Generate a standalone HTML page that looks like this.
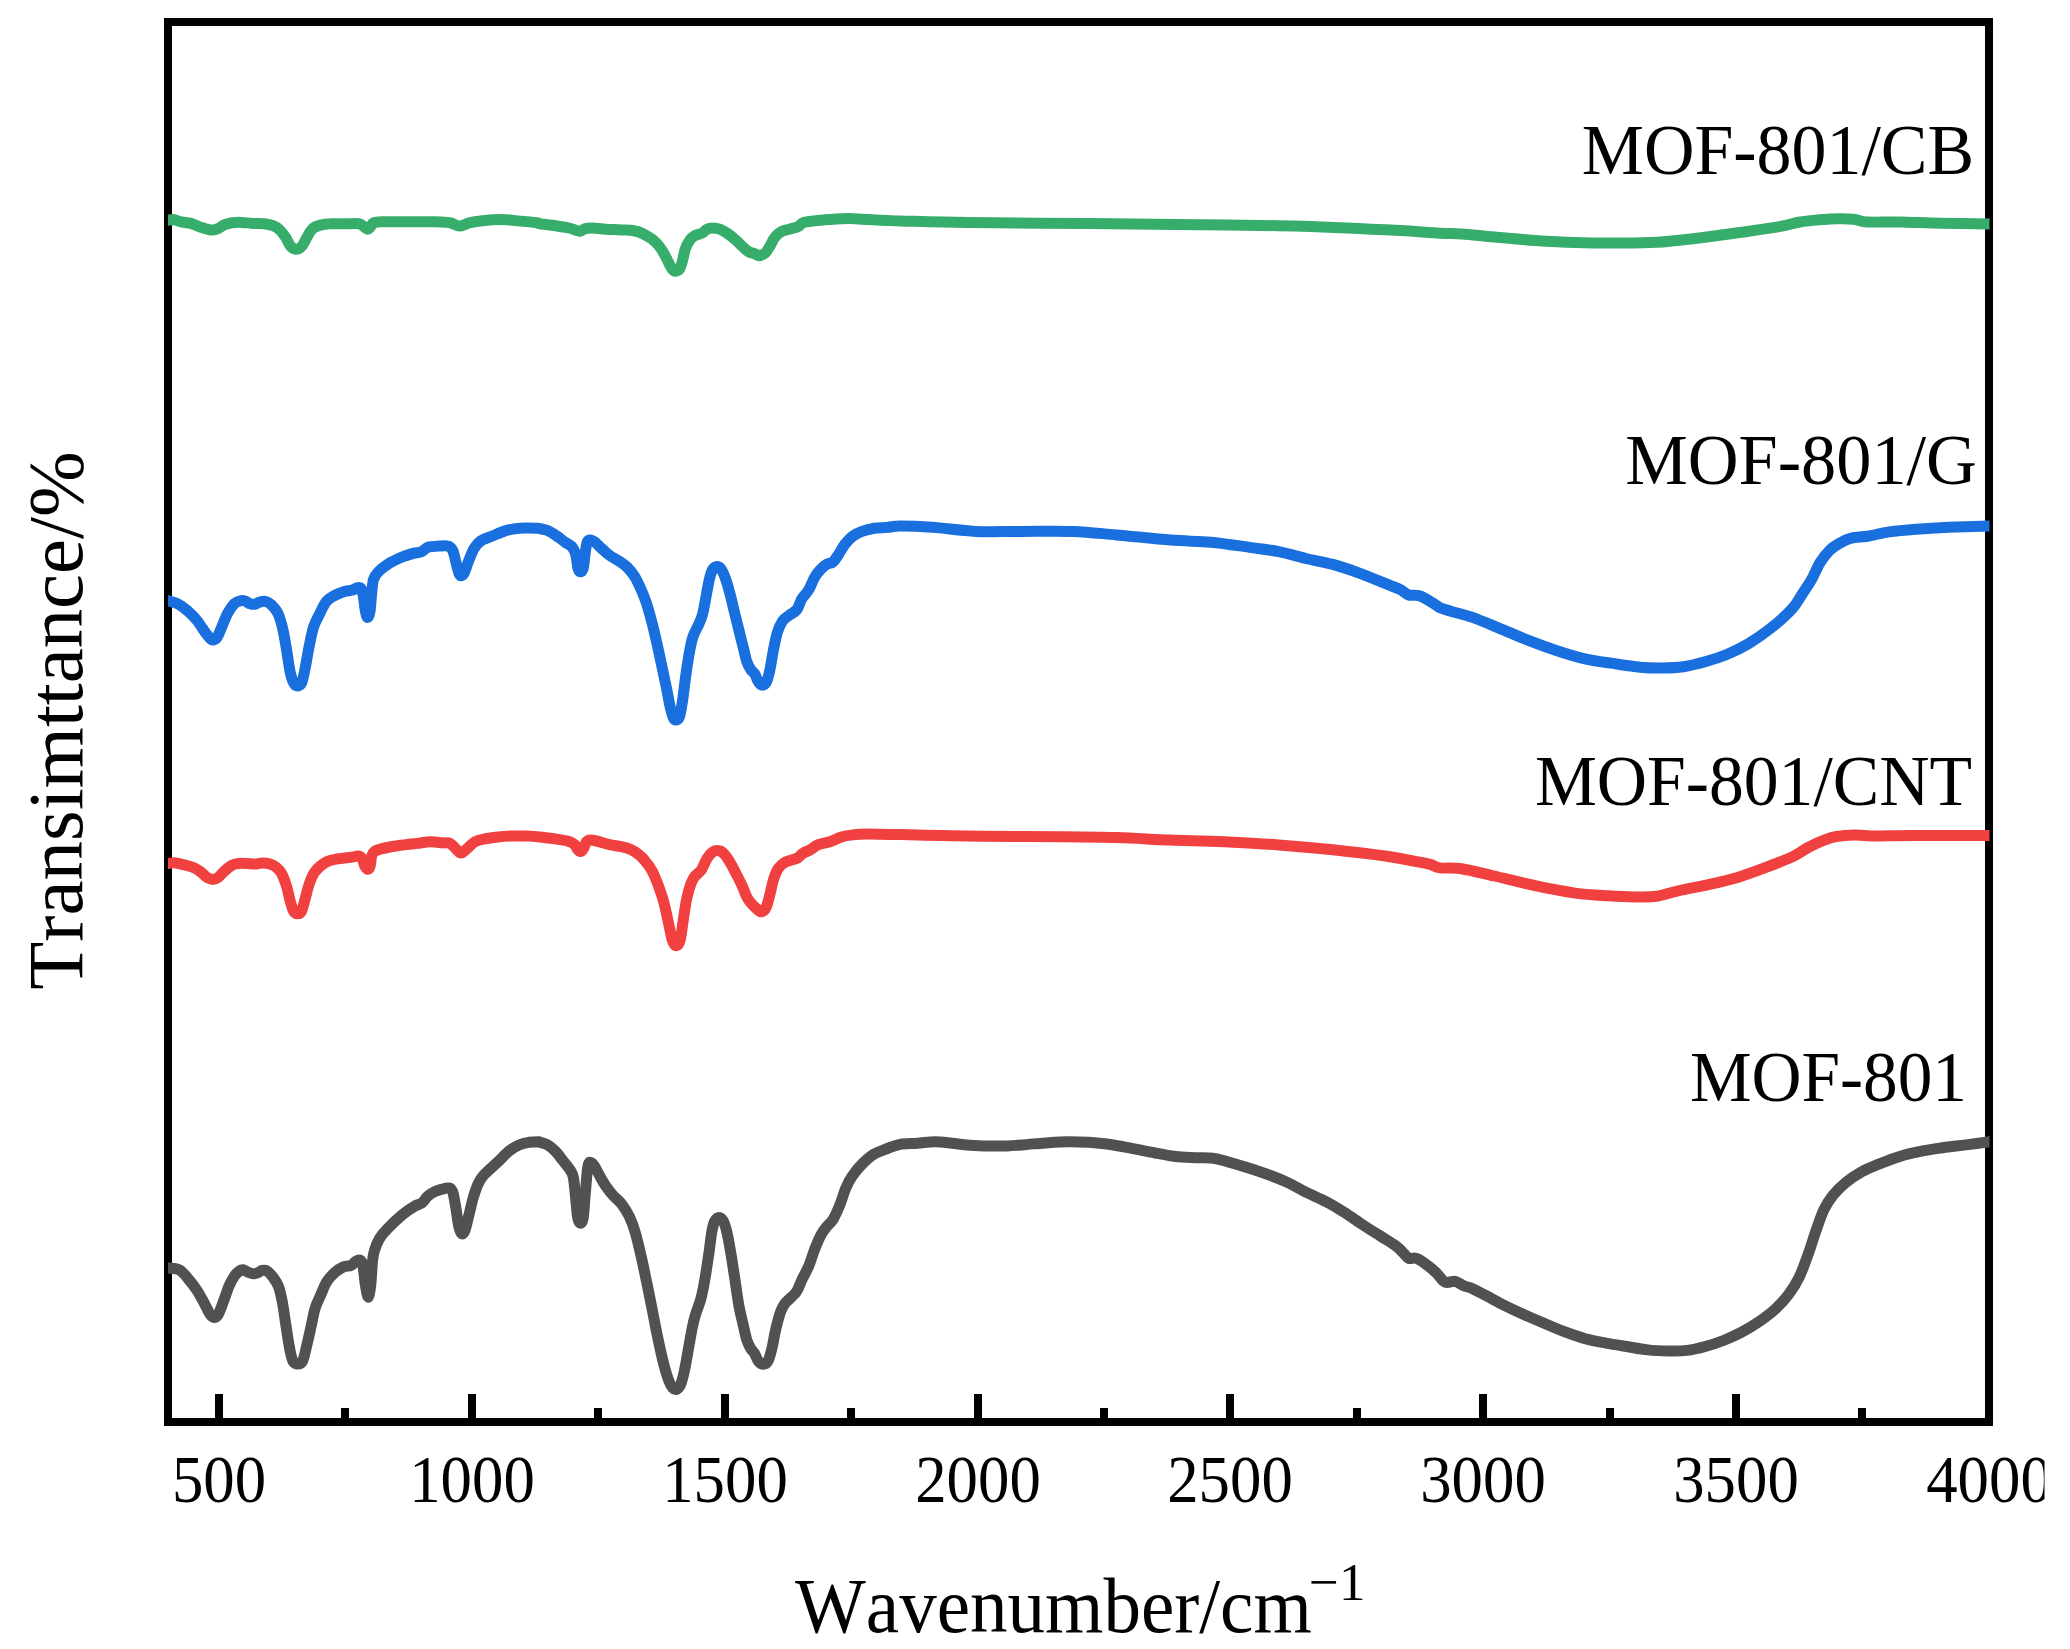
<!DOCTYPE html>
<html><head><meta charset="utf-8"><title>FTIR spectra</title>
<style>
html,body{margin:0;padding:0;background:#fff}
svg{display:block}
text{font-kerning:none;font-family:"Liberation Serif","Times New Roman",serif;fill:#000}
</style></head><body>
<svg width="2070" height="1649" viewBox="0 0 2070 1649">
<rect width="2070" height="1649" fill="#fff"/>
<rect x="168" y="22" width="1821" height="1400" fill="none" stroke="#000" stroke-width="8"/>
<path d="M219.0 1394V1420M472.0 1394V1420M725.0 1394V1420M978.0 1394V1420M1230.0 1394V1420M1483.0 1394V1420M1736.0 1394V1420" stroke="#000" stroke-width="8" fill="none"/>
<path d="M345.0 1408V1420M598.0 1408V1420M851.0 1408V1420M1104.0 1408V1420M1357.0 1408V1420M1610.0 1408V1420M1862.0 1408V1420" stroke="#000" stroke-width="8" fill="none"/>
<clipPath id="cc"><rect x="168" y="26" width="1821.5" height="1392"/></clipPath><g clip-path="url(#cc)">
<path d="M160.2 1266.5C161.5 1266.7 164.9 1267.3 168.2 1267.9C171.4 1268.4 176.2 1268.2 179.4 1269.8C182.6 1271.4 184.3 1274.2 187.2 1277.6C190.1 1281.0 194.0 1285.8 196.9 1290.2C199.8 1294.6 202.5 1299.9 204.6 1303.8C206.7 1307.7 208.0 1311.2 209.5 1313.5C210.9 1315.8 211.9 1317.2 213.4 1317.4C214.8 1317.5 216.4 1317.4 218.2 1314.5C220.0 1311.5 222.3 1304.6 224.0 1299.9C225.8 1295.2 227.1 1290.4 228.9 1286.3C230.7 1282.3 232.9 1278.2 234.7 1275.6C236.5 1273.1 238.1 1271.8 239.6 1270.8C241.0 1269.8 242.0 1269.6 243.5 1269.8C244.9 1270.1 246.7 1271.7 248.3 1272.3C249.9 1273.0 251.5 1273.6 253.2 1273.7C254.8 1273.8 256.6 1273.3 258.0 1272.7C259.5 1272.2 260.4 1270.7 261.9 1270.4C263.3 1270.1 265.0 1269.8 266.7 1270.8C268.5 1271.8 270.6 1274.0 272.6 1276.6C274.5 1279.2 276.8 1282.1 278.4 1286.3C280.0 1290.5 281.0 1295.1 282.3 1301.8C283.6 1308.6 284.9 1319.0 286.2 1327.1C287.4 1335.2 288.9 1344.7 290.0 1350.4C291.2 1356.0 291.7 1358.8 292.9 1361.0C294.2 1363.3 296.2 1363.9 297.8 1363.9C299.4 1363.9 301.2 1363.9 302.6 1361.0C304.1 1358.1 305.1 1352.5 306.5 1346.5C308.0 1340.5 309.9 1331.6 311.4 1325.1C312.8 1318.7 313.6 1312.8 315.3 1307.7C316.9 1302.5 319.1 1298.4 321.1 1294.1C323.0 1289.7 324.6 1285.0 326.9 1281.5C329.2 1277.9 331.9 1275.2 334.7 1272.7C337.4 1270.3 340.7 1268.1 343.4 1266.9C346.2 1265.7 349.1 1266.3 351.2 1265.4C353.3 1264.4 354.6 1262.0 356.0 1261.1C357.5 1260.2 358.8 1259.5 359.9 1260.1C361.0 1260.8 361.9 1260.9 362.8 1265.0C363.7 1269.0 364.5 1279.0 365.3 1284.4C366.2 1289.7 367.2 1296.7 368.1 1297.0C368.9 1297.3 369.8 1292.3 370.6 1286.3C371.3 1280.3 371.9 1267.1 372.5 1261.1C373.2 1255.1 373.3 1254.1 374.5 1250.4C375.6 1246.7 377.2 1242.3 379.3 1238.8C381.4 1235.2 383.2 1233.1 387.1 1229.1C391.0 1225.0 398.1 1218.3 402.6 1214.5C407.1 1210.7 411.0 1208.3 414.2 1206.4C417.5 1204.4 419.7 1204.6 422.0 1202.9C424.3 1201.1 425.6 1198.0 427.8 1196.1C430.1 1194.1 432.7 1192.5 435.6 1191.2C438.5 1189.9 442.9 1188.8 445.3 1188.3C447.7 1187.8 448.9 1187.5 450.2 1188.3C451.4 1189.1 452.1 1189.8 453.1 1193.2C454.0 1196.6 455.0 1203.0 456.0 1208.7C456.9 1214.3 457.9 1222.9 458.9 1227.1C459.9 1231.3 460.8 1233.4 461.8 1233.9C462.8 1234.4 464.0 1232.9 465.1 1230.0C466.2 1227.1 467.2 1221.9 468.6 1216.4C470.0 1210.9 471.8 1202.5 473.4 1197.0C475.1 1191.5 476.5 1187.2 478.3 1183.5C480.1 1179.7 480.9 1178.3 484.1 1174.7C487.3 1171.2 493.5 1166.1 497.7 1162.1C501.9 1158.1 505.8 1153.7 509.3 1150.8C512.9 1148.0 515.8 1146.4 519.0 1145.0C522.3 1143.6 525.5 1142.9 528.8 1142.3C532.0 1141.8 536.6 1141.7 538.5 1141.7C540.3 1141.7 538.4 1141.8 540.0 1142.3C541.6 1142.9 545.2 1143.5 547.8 1145.0C550.4 1146.5 552.9 1148.7 555.5 1151.4C558.1 1154.1 560.9 1158.1 563.3 1161.1C565.7 1164.2 568.4 1167.1 570.1 1169.9C571.8 1172.6 572.4 1172.5 573.4 1177.6C574.4 1182.8 575.2 1194.1 575.9 1200.9C576.6 1207.7 577.1 1214.7 577.8 1218.4C578.6 1222.1 579.5 1223.2 580.4 1223.2C581.2 1223.2 582.3 1222.8 583.1 1218.4C583.9 1214.0 584.4 1204.5 585.0 1197.0C585.7 1189.6 586.4 1179.2 587.0 1173.8C587.5 1168.3 587.9 1165.9 588.5 1164.0C589.2 1162.2 589.9 1162.2 590.8 1162.5C591.8 1162.8 592.8 1163.6 594.3 1166.0C595.9 1168.3 598.2 1173.3 600.2 1176.7C602.1 1180.1 603.9 1183.3 606.0 1186.4C608.1 1189.4 610.2 1192.2 612.8 1195.1C615.4 1198.0 618.8 1200.3 621.5 1203.8C624.3 1207.4 627.0 1211.8 629.3 1216.4C631.5 1221.1 633.2 1225.5 635.1 1232.0C637.0 1238.4 639.0 1246.9 640.9 1255.3C642.9 1263.7 644.8 1273.1 646.7 1282.4C648.7 1291.8 650.6 1301.8 652.6 1311.5C654.5 1321.3 656.4 1331.6 658.4 1340.7C660.3 1349.7 662.4 1359.1 664.2 1365.9C666.0 1372.7 667.6 1377.7 669.1 1381.4C670.5 1385.1 671.7 1386.9 672.9 1388.2C674.2 1389.5 675.5 1389.8 676.8 1389.2C678.1 1388.5 679.4 1387.6 680.7 1384.3C682.0 1381.1 683.3 1375.8 684.6 1369.8C685.9 1363.8 687.2 1355.5 688.5 1348.4C689.8 1341.3 691.2 1332.6 692.4 1327.1C693.5 1321.6 693.8 1320.3 695.3 1315.4C696.7 1310.6 699.5 1304.1 701.1 1298.0C702.7 1291.8 703.7 1286.0 705.0 1278.6C706.3 1271.1 707.7 1261.1 708.9 1253.3C710.0 1245.6 710.8 1237.3 711.8 1232.0C712.7 1226.6 713.5 1223.7 714.7 1221.3C715.9 1218.9 717.5 1217.4 718.9 1217.4C720.4 1217.4 722.0 1218.6 723.4 1221.3C724.8 1224.0 726.0 1228.3 727.3 1233.9C728.6 1239.6 729.9 1247.5 731.2 1255.3C732.5 1263.0 733.8 1272.1 735.1 1280.5C736.3 1288.9 737.6 1298.6 738.9 1305.7C740.2 1312.8 741.5 1317.5 742.8 1323.2C744.1 1328.9 745.4 1335.5 746.7 1339.7C748.0 1343.9 749.3 1346.2 750.6 1348.4C751.9 1350.7 753.2 1351.2 754.5 1353.3C755.8 1355.4 756.9 1359.2 758.3 1361.0C759.8 1362.9 761.6 1364.3 763.2 1364.3C764.8 1364.3 766.6 1363.7 768.0 1361.0C769.5 1358.4 770.6 1353.8 771.9 1348.4C773.2 1343.1 774.4 1335.2 775.8 1329.0C777.3 1322.9 779.0 1315.9 780.7 1311.5C782.3 1307.2 782.9 1306.0 785.5 1302.8C788.1 1299.6 793.4 1296.0 796.2 1292.1C798.9 1288.3 799.9 1283.9 802.0 1279.5C804.1 1275.2 806.7 1271.0 808.8 1265.9C810.9 1260.9 812.7 1254.5 814.6 1249.4C816.6 1244.4 818.5 1239.6 820.4 1235.9C822.4 1232.1 824.2 1229.9 826.3 1227.1C828.4 1224.4 830.8 1223.1 833.1 1219.4C835.3 1215.6 837.8 1210.0 839.9 1204.8C842.0 1199.6 843.6 1193.2 845.7 1188.3C847.8 1183.5 849.7 1179.7 852.5 1175.7C855.2 1171.6 858.6 1167.6 862.2 1164.0C865.7 1160.5 869.6 1156.9 873.8 1154.3C878.0 1151.8 883.0 1150.2 887.4 1148.5C891.8 1146.9 895.0 1145.2 900.0 1144.3C905.0 1143.5 911.6 1143.6 917.4 1143.2C923.2 1142.8 929.0 1141.7 934.8 1141.7C940.6 1141.7 946.4 1142.6 952.2 1143.2C958.0 1143.8 961.8 1144.7 969.6 1145.2C977.3 1145.7 989.9 1146.1 998.6 1146.1C1007.2 1146.0 1014.0 1145.5 1021.7 1144.9C1029.5 1144.4 1037.2 1143.4 1044.9 1142.9C1052.7 1142.4 1060.9 1141.8 1068.1 1141.7C1075.4 1141.6 1081.6 1141.9 1088.4 1142.3C1095.2 1142.8 1101.4 1143.3 1108.7 1144.3C1115.9 1145.4 1124.2 1147.0 1131.9 1148.4C1139.6 1149.9 1147.8 1151.7 1155.1 1153.0C1162.3 1154.4 1168.6 1155.7 1175.4 1156.5C1182.1 1157.3 1189.4 1157.4 1195.7 1157.7C1201.9 1158.0 1207.7 1157.6 1213.0 1158.3C1218.4 1158.9 1221.7 1160.1 1227.5 1161.7C1233.3 1163.3 1240.6 1165.5 1247.8 1167.8C1255.1 1170.1 1264.3 1173.1 1271.0 1175.7C1277.8 1178.2 1282.6 1180.1 1288.4 1182.9C1294.2 1185.7 1299.5 1189.0 1305.8 1192.2C1312.1 1195.3 1319.8 1198.5 1326.1 1201.7C1332.4 1205.0 1337.2 1207.9 1343.5 1211.9C1349.8 1215.8 1357.5 1221.4 1363.8 1225.5C1370.0 1229.6 1375.8 1233.1 1381.2 1236.5C1386.5 1239.9 1392.0 1243.1 1395.7 1245.8C1399.3 1248.5 1400.7 1250.4 1402.9 1252.5C1405.1 1254.5 1406.5 1257.3 1408.7 1258.3C1410.9 1259.2 1413.3 1257.4 1415.9 1258.3C1418.6 1259.1 1421.3 1260.8 1424.6 1263.2C1428.0 1265.6 1432.9 1269.6 1436.2 1272.8C1439.6 1275.9 1441.8 1280.6 1444.9 1282.0C1448.1 1283.5 1451.9 1280.8 1455.1 1281.4C1458.2 1282.1 1461.2 1284.7 1463.8 1285.8C1466.3 1286.9 1466.7 1286.2 1470.4 1287.8C1474.2 1289.5 1480.4 1292.7 1486.1 1295.7C1491.7 1298.6 1498.3 1302.3 1504.3 1305.3C1510.4 1308.3 1516.1 1311.0 1522.6 1313.9C1529.1 1316.9 1536.5 1320.1 1543.5 1323.0C1550.4 1326.0 1557.4 1329.0 1564.3 1331.7C1571.3 1334.3 1578.3 1336.8 1585.2 1338.7C1592.2 1340.6 1599.1 1341.8 1606.1 1343.1C1613.0 1344.4 1620.0 1345.4 1627.0 1346.5C1633.9 1347.7 1640.9 1349.2 1647.8 1349.9C1654.8 1350.7 1662.2 1350.9 1668.7 1351.0C1675.2 1351.0 1680.9 1351.2 1687.0 1350.4C1693.0 1349.7 1699.1 1348.2 1705.2 1346.5C1711.3 1344.9 1717.4 1342.9 1723.5 1340.5C1729.6 1338.1 1735.7 1335.4 1741.7 1332.2C1747.8 1328.9 1754.3 1324.9 1760.0 1321.0C1765.7 1317.0 1770.9 1313.1 1775.7 1308.7C1780.4 1304.3 1784.8 1299.6 1788.7 1294.3C1792.6 1289.1 1795.9 1284.1 1799.1 1277.4C1802.4 1270.7 1805.4 1261.7 1808.3 1253.9C1811.1 1246.1 1813.5 1237.8 1816.1 1230.4C1818.7 1223.0 1821.1 1215.4 1823.9 1209.6C1826.7 1203.7 1829.3 1199.8 1833.0 1195.2C1836.7 1190.7 1841.3 1186.1 1846.1 1182.2C1850.9 1178.3 1856.5 1174.7 1861.7 1171.7C1867.0 1168.8 1871.3 1167.2 1877.4 1164.7C1883.5 1162.2 1891.3 1159.0 1898.3 1156.9C1905.2 1154.7 1911.7 1153.2 1919.1 1151.7C1926.5 1150.1 1934.8 1148.9 1942.6 1147.7C1950.4 1146.6 1958.3 1145.9 1966.1 1144.9C1973.9 1143.9 1984.3 1142.4 1989.6 1141.7C1994.8 1141.0 1996.2 1140.9 1997.6 1140.7" fill="none" stroke="#515151" stroke-width="11" stroke-linejoin="round" stroke-linecap="butt"/>
<path d="M160.1 864.4C161.4 864.3 165.7 863.8 168.1 863.5C170.5 863.2 172.0 862.5 174.5 862.7C177.0 862.9 180.1 863.9 183.2 864.6C186.2 865.4 190.0 866.2 192.9 867.3C195.7 868.5 198.2 870.1 200.6 871.8C203.0 873.5 205.2 876.3 207.3 877.6C209.4 878.9 211.4 879.5 213.1 879.5C214.9 879.5 216.0 879.0 218.0 877.6C219.9 876.1 222.3 872.9 224.7 870.8C227.1 868.7 230.0 866.2 232.5 865.0C234.9 863.8 236.8 863.7 239.2 863.5C241.6 863.2 244.4 863.4 247.0 863.5C249.5 863.6 252.1 864.1 254.7 864.1C257.3 864.0 259.8 863.1 262.4 863.1C265.0 863.1 267.9 863.4 270.1 864.1C272.4 864.7 274.0 865.3 275.9 867.0C277.9 868.6 280.0 870.5 281.7 873.7C283.5 876.9 285.1 881.6 286.6 886.3C288.0 891.0 289.2 897.6 290.4 901.7C291.6 905.9 292.5 909.4 293.7 911.4C294.9 913.4 296.3 913.7 297.6 913.7C298.9 913.7 300.2 913.7 301.4 911.4C302.7 909.1 303.7 904.2 304.9 899.8C306.2 895.5 307.3 889.7 308.8 885.3C310.2 881.0 311.7 876.9 313.6 873.7C315.6 870.5 318.0 868.1 320.4 866.0C322.8 863.9 325.2 862.4 328.1 861.2C331.0 860.0 333.9 859.5 337.8 858.8C341.6 858.2 347.9 857.8 351.3 857.3C354.7 856.8 356.3 855.8 358.1 855.9C359.8 856.1 360.8 856.6 361.9 858.3C363.1 859.9 363.9 864.2 364.8 866.0C365.8 867.8 366.8 869.3 367.7 869.3C368.6 869.3 369.6 868.1 370.2 866.0C370.9 863.8 370.9 858.7 371.6 856.3C372.3 853.9 372.7 852.8 374.5 851.5C376.3 850.2 378.4 849.6 382.2 848.6C386.1 847.6 391.9 846.6 397.7 845.7C403.5 844.8 411.5 844.0 417.0 843.4C422.5 842.7 426.3 841.9 430.5 841.8C434.7 841.7 438.9 842.5 442.1 842.8C445.3 843.1 447.6 842.4 449.9 843.4C452.1 844.3 453.8 847.0 455.7 848.6C457.5 850.2 459.1 853.0 461.1 853.0C463.0 853.0 464.9 850.5 467.2 848.6C469.6 846.7 472.1 843.4 475.0 841.8C477.9 840.2 480.8 839.7 484.6 838.9C488.5 838.1 493.7 837.5 498.2 837.0C502.7 836.5 506.9 836.2 511.7 836.0C516.5 835.9 522.4 835.9 527.1 836.0C531.9 836.2 535.3 836.5 540.0 837.0C544.7 837.5 550.6 838.2 555.5 838.9C560.3 839.7 565.8 840.5 569.0 841.4C572.2 842.4 573.3 843.4 574.8 844.7C576.2 846.1 576.7 848.4 577.7 849.6C578.6 850.7 579.6 851.7 580.6 851.5C581.5 851.3 582.5 850.2 583.5 848.6C584.4 847.0 585.2 843.3 586.4 841.8C587.6 840.4 588.7 840.0 590.6 839.9C592.6 839.8 594.8 840.6 598.0 841.4C601.1 842.3 605.7 843.9 609.6 844.7C613.4 845.6 617.6 845.9 621.2 846.7C624.7 847.5 627.9 848.3 630.8 849.6C633.7 850.9 636.1 852.5 638.6 854.4C641.0 856.3 643.1 858.4 645.3 861.2C647.6 863.9 650.0 867.0 652.1 870.8C654.2 874.7 655.9 879.2 657.9 884.3C659.8 889.5 661.9 895.3 663.7 901.7C665.4 908.2 667.1 916.6 668.5 923.0C670.0 929.4 671.1 936.6 672.4 940.4C673.7 944.2 674.9 945.8 676.2 945.8C677.5 945.8 678.9 944.8 680.1 940.4C681.3 935.9 682.3 926.2 683.4 919.1C684.5 912.0 685.6 903.7 686.9 897.9C688.1 892.1 689.4 887.9 690.7 884.3C692.0 880.8 692.8 879.0 694.6 876.6C696.4 874.2 699.3 872.9 701.4 869.9C703.4 866.8 705.4 861.2 707.1 858.3C708.9 855.4 710.4 853.8 712.0 852.5C713.6 851.2 715.0 850.5 716.8 850.5C718.6 850.5 720.5 850.7 722.6 852.5C724.7 854.2 727.1 857.6 729.4 861.2C731.6 864.7 734.0 869.7 736.1 873.7C738.2 877.7 740.2 881.4 741.9 885.3C743.7 889.2 745.2 893.8 746.8 896.9C748.4 900.0 750.0 901.7 751.6 903.7C753.2 905.6 754.8 907.1 756.4 908.5C758.0 909.9 759.6 911.9 761.3 911.8C762.9 911.6 764.6 910.5 766.1 907.5C767.5 904.6 768.7 898.8 770.0 894.0C771.2 889.2 772.4 882.9 773.8 878.6C775.3 874.2 776.7 870.7 778.6 867.9C780.6 865.2 782.4 863.7 785.4 862.1C788.5 860.5 794.1 859.7 797.0 858.3C799.9 856.8 800.5 854.9 802.8 853.4C805.1 852.0 808.0 851.0 810.5 849.6C813.1 848.1 815.0 846.0 818.3 844.7C821.5 843.4 826.0 843.1 829.9 841.8C833.7 840.5 837.6 838.2 841.4 837.0C845.3 835.8 848.5 835.4 853.0 834.9C857.6 834.4 862.7 834.2 868.5 834.1C874.3 834.0 882.6 834.4 887.8 834.5C893.1 834.6 891.2 834.5 900.0 834.6C908.8 834.8 927.1 835.2 940.6 835.5C954.1 835.7 960.9 836.0 981.2 836.3C1001.4 836.5 1039.8 836.6 1062.3 836.8C1084.9 837.0 1098.4 837.1 1116.4 837.6C1134.5 838.2 1152.5 839.4 1170.5 840.1C1188.6 840.7 1206.6 840.9 1224.6 841.7C1242.7 842.5 1260.7 843.6 1278.7 844.9C1296.8 846.3 1314.8 847.9 1332.9 849.8C1350.9 851.7 1373.4 854.4 1387.0 856.3C1400.5 858.2 1406.8 859.8 1414.0 861.2C1421.2 862.5 1425.9 863.3 1430.2 864.4C1434.6 865.5 1434.8 867.2 1440.0 867.9C1445.2 868.6 1452.6 867.4 1461.6 868.7C1470.7 870.1 1481.9 873.2 1494.1 876.0C1506.3 878.8 1521.2 882.7 1534.7 885.5C1548.2 888.3 1563.1 891.4 1575.3 893.1C1587.4 894.8 1597.8 895.2 1607.7 895.8C1617.6 896.4 1626.7 896.8 1634.8 896.9C1642.9 897.0 1649.2 897.3 1656.4 896.3C1663.6 895.3 1669.0 892.9 1678.1 890.9C1687.1 888.9 1700.6 886.4 1710.5 884.2C1720.5 881.9 1728.6 880.1 1737.6 877.4C1746.6 874.7 1755.6 871.3 1764.6 867.9C1773.7 864.5 1784.5 860.5 1791.7 857.1C1798.9 853.7 1802.5 850.5 1807.9 847.6C1813.3 844.8 1819.2 842.0 1824.2 840.1C1829.1 838.2 1832.7 837.1 1837.7 836.3C1842.6 835.4 1848.1 835.0 1853.9 834.9C1859.8 834.9 1862.9 835.9 1872.9 836.0C1882.8 836.1 1894.0 835.5 1913.4 835.5C1932.8 835.4 1975.2 835.5 1989.2 835.5C2003.1 835.5 1995.8 835.5 1997.2 835.5" fill="none" stroke="#F14040" stroke-width="11" stroke-linejoin="round" stroke-linecap="butt"/>
<path d="M160.1 598.3C161.4 598.7 165.2 599.9 168.1 600.8C171.0 601.7 174.2 602.1 177.4 603.7C180.5 605.3 183.8 607.7 187.1 610.4C190.3 613.2 193.7 616.4 196.7 620.1C199.8 623.8 203.2 629.6 205.4 632.7C207.7 635.7 209.0 637.2 210.2 638.5C211.5 639.7 212.0 640.2 213.1 640.0C214.3 639.8 215.6 639.7 217.0 637.5C218.5 635.3 220.1 630.9 221.8 626.9C223.6 622.8 225.5 617.2 227.6 613.3C229.7 609.5 232.3 605.8 234.4 603.7C236.5 601.6 238.4 601.2 240.2 600.8C242.0 600.3 243.4 600.5 245.0 601.0C246.6 601.4 248.2 603.1 249.9 603.7C251.5 604.2 253.1 604.5 254.7 604.3C256.3 604.0 257.7 602.6 259.5 602.1C261.3 601.6 263.4 600.9 265.3 601.4C267.2 601.8 269.0 602.6 271.1 604.6C273.2 606.6 275.9 609.3 277.9 613.3C279.8 617.4 281.3 622.7 282.7 628.8C284.2 634.9 285.3 642.6 286.6 650.0C287.9 657.5 289.1 667.6 290.4 673.2C291.7 678.9 293.0 681.8 294.3 683.9C295.6 686.0 296.9 686.1 298.2 685.8C299.5 685.5 300.8 685.0 302.0 681.9C303.2 678.9 304.1 673.4 305.3 667.4C306.5 661.5 307.8 652.9 309.2 646.2C310.6 639.4 311.9 632.2 313.6 626.9C315.3 621.5 317.3 618.5 319.4 614.3C321.5 610.1 323.8 604.8 326.2 601.7C328.6 598.7 331.0 597.6 333.9 595.9C336.8 594.3 340.5 592.7 343.6 591.7C346.6 590.7 350.0 590.8 352.3 590.1C354.5 589.5 355.7 588.1 357.1 587.8C358.6 587.5 359.9 586.9 361.0 588.2C362.0 589.6 362.5 592.1 363.3 595.9C364.0 599.8 364.7 607.8 365.4 611.4C366.2 615.0 367.0 617.6 367.7 617.6C368.5 617.6 369.4 615.3 370.0 611.4C370.7 607.5 371.0 599.3 371.6 594.0C372.2 588.7 372.4 583.2 373.5 579.5C374.7 575.8 375.9 574.4 378.4 571.8C380.8 569.2 384.2 566.5 388.0 564.1C391.9 561.6 397.4 559.1 401.5 557.3C405.7 555.5 409.9 554.3 413.1 553.4C416.4 552.5 418.3 552.9 420.9 551.9C423.4 550.8 425.7 548.0 428.6 547.1C431.5 546.1 435.0 546.2 438.3 546.1C441.5 545.9 445.5 545.3 447.9 546.1C450.3 546.8 451.3 547.4 452.8 550.5C454.2 553.7 455.6 561.2 456.6 565.0C457.7 568.9 458.3 571.9 459.1 573.7C459.9 575.5 460.6 575.8 461.4 575.7C462.3 575.5 463.2 575.0 464.3 572.8C465.5 570.5 466.6 566.2 468.2 562.1C469.8 558.1 471.9 552.1 474.0 548.6C476.1 545.1 477.7 543.0 480.8 540.9C483.8 538.8 488.2 537.7 492.4 536.0C496.6 534.3 501.4 531.9 505.9 530.6C510.4 529.3 514.3 528.7 519.4 528.3C524.6 527.9 533.4 528.2 536.8 528.3C540.2 528.4 538.2 528.3 540.0 528.7C541.8 529.1 544.8 529.3 547.7 530.6C550.6 531.9 554.5 534.5 557.4 536.4C560.3 538.4 562.7 540.5 565.1 542.2C567.5 543.9 570.1 544.6 571.9 546.7C573.7 548.7 574.7 550.7 575.7 554.4C576.8 558.1 577.3 566.0 578.1 568.9C578.9 571.8 579.7 571.9 580.6 571.8C581.4 571.6 582.5 571.3 583.3 567.9C584.1 564.5 584.7 555.8 585.4 551.5C586.1 547.1 586.5 543.8 587.3 541.8C588.2 539.9 589.3 539.8 590.6 539.9C591.9 540.0 593.2 540.8 595.1 542.2C596.9 543.7 599.4 546.4 601.8 548.6C604.3 550.8 606.7 553.3 609.6 555.4C612.5 557.5 616.3 559.2 619.2 561.2C622.1 563.1 624.4 564.4 627.0 567.0C629.5 569.5 632.4 573.1 634.7 576.6C636.9 580.2 638.6 583.9 640.5 588.2C642.4 592.6 644.3 596.9 646.3 602.7C648.2 608.5 650.3 616.2 652.1 623.0C653.8 629.8 655.3 636.2 656.9 643.3C658.5 650.4 660.1 657.9 661.7 665.5C663.3 673.1 665.1 681.6 666.6 688.7C668.0 695.8 669.3 703.2 670.4 708.0C671.6 712.9 672.4 715.7 673.3 717.7C674.3 719.7 675.2 720.2 676.2 720.0C677.3 719.8 678.5 720.0 679.5 716.7C680.6 713.4 681.6 706.6 682.6 700.3C683.6 694.0 684.3 686.4 685.3 679.0C686.3 671.6 687.6 662.8 688.8 655.8C690.0 648.9 691.2 642.3 692.7 637.5C694.1 632.7 695.9 630.6 697.5 626.9C699.1 623.2 700.9 620.1 702.3 615.3C703.7 610.4 704.7 603.7 705.8 597.9C706.9 592.1 708.0 585.2 709.1 580.5C710.2 575.8 711.2 572.2 712.4 569.9C713.6 567.5 714.8 566.8 716.2 566.6C717.6 566.3 719.1 566.5 720.7 568.5C722.2 570.5 723.9 574.1 725.5 578.6C727.1 583.0 728.7 588.9 730.3 595.0C731.9 601.1 733.6 608.7 735.2 615.3C736.8 621.9 738.6 628.8 740.0 634.6C741.4 640.4 742.7 645.5 743.9 650.0C745.0 654.6 745.6 658.4 746.8 661.6C747.9 664.9 749.3 667.3 750.6 669.4C752.0 671.5 753.6 672.1 754.9 674.2C756.2 676.3 757.1 680.1 758.4 681.9C759.6 683.8 760.9 685.2 762.2 685.2C763.6 685.2 765.2 684.6 766.5 681.9C767.8 679.3 768.8 674.7 770.0 669.4C771.1 664.1 772.2 656.2 773.4 650.0C774.7 643.9 775.8 637.5 777.3 632.7C778.8 627.8 780.5 624.0 782.5 621.1C784.5 618.2 786.9 617.2 789.3 615.3C791.7 613.3 794.9 612.2 797.0 609.5C799.1 606.7 799.9 602.1 801.8 598.8C803.8 595.6 806.5 593.7 808.6 590.1C810.7 586.6 812.5 581.0 814.4 577.6C816.3 574.2 818.1 572.1 820.2 569.9C822.3 567.6 824.9 565.3 827.0 564.1C829.0 562.8 830.8 563.7 832.8 562.1C834.7 560.5 836.5 557.5 838.6 554.4C840.6 551.3 842.9 546.8 845.3 543.8C847.7 540.7 850.1 538.1 853.0 536.0C855.9 533.9 859.2 532.5 862.7 531.2C866.2 529.9 870.1 529.0 874.3 528.3C878.5 527.7 883.5 527.7 887.8 527.3C892.1 527.0 892.6 526.0 900.0 526.0C907.4 526.0 919.8 526.4 932.5 527.3C945.1 528.2 960.9 530.7 975.7 531.4C990.6 532.1 1005.5 531.4 1021.7 531.4C1038.0 531.4 1057.4 530.8 1073.1 531.4C1088.9 532.0 1100.2 533.5 1116.4 534.9C1132.7 536.4 1154.8 538.8 1170.5 540.1C1186.3 541.3 1197.6 541.0 1211.1 542.2C1224.6 543.5 1240.4 546.1 1251.7 547.6C1263.0 549.2 1269.7 549.9 1278.7 551.7C1287.8 553.5 1296.8 556.3 1305.8 558.5C1314.8 560.6 1323.8 561.9 1332.9 564.4C1341.9 566.9 1350.9 570.0 1359.9 573.3C1368.9 576.6 1380.2 581.4 1387.0 584.2C1393.7 586.9 1396.9 587.8 1400.5 589.6C1404.1 591.4 1405.4 593.9 1408.6 595.0C1411.8 596.0 1415.4 594.4 1419.4 595.8C1423.5 597.1 1429.5 601.1 1432.9 603.1C1436.4 605.1 1437.0 606.3 1440.0 607.7C1443.0 609.0 1445.4 609.6 1450.8 611.2C1456.2 612.8 1464.3 614.6 1472.5 617.4C1480.6 620.3 1490.5 624.6 1499.5 628.3C1508.5 631.9 1517.1 635.9 1526.6 639.6C1536.0 643.3 1546.4 647.2 1556.3 650.4C1566.2 653.7 1576.6 656.9 1586.1 659.1C1595.6 661.3 1604.1 662.1 1613.1 663.4C1622.2 664.8 1632.1 666.4 1640.2 667.2C1648.3 668.0 1654.6 668.1 1661.8 668.0C1669.0 667.9 1676.3 667.7 1683.5 666.7C1690.7 665.6 1697.9 663.8 1705.1 661.8C1712.3 659.8 1719.5 657.5 1726.8 654.5C1734.0 651.5 1741.2 648.0 1748.4 643.7C1755.6 639.4 1762.8 634.5 1770.0 628.8C1777.3 623.1 1786.3 615.2 1791.7 609.3C1797.1 603.5 1799.1 598.7 1802.5 593.6C1805.9 588.5 1809.0 583.9 1812.0 578.7C1814.9 573.6 1817.2 567.2 1820.1 562.5C1823.0 557.8 1826.4 553.5 1829.6 550.3C1832.7 547.2 1835.4 545.6 1839.0 543.6C1842.6 541.5 1846.5 539.4 1851.2 538.2C1855.9 536.9 1861.1 537.3 1867.4 536.3C1873.8 535.2 1881.0 533.1 1889.1 531.9C1897.2 530.8 1906.2 530.0 1916.1 529.2C1926.1 528.5 1936.4 527.9 1948.6 527.3C1960.8 526.8 1981.1 526.3 1989.2 526.0C1997.3 525.7 1995.8 525.8 1997.2 525.7" fill="none" stroke="#1A6FDF" stroke-width="11" stroke-linejoin="round" stroke-linecap="butt"/>
<path d="M160.1 221.4C161.4 221.2 165.9 220.6 168.1 220.3C170.4 220.0 171.3 219.3 173.5 219.5C175.7 219.8 178.4 221.2 181.3 221.8C184.2 222.5 187.7 222.5 190.9 223.4C194.1 224.3 197.8 226.3 200.6 227.2C203.3 228.2 205.4 228.7 207.3 229.2C209.3 229.6 210.4 230.0 212.2 230.0C213.9 229.9 215.9 229.5 218.0 228.6C220.1 227.7 222.3 225.7 224.7 224.7C227.1 223.8 229.7 223.2 232.5 222.8C235.2 222.4 237.8 222.3 241.2 222.4C244.5 222.5 248.9 223.2 252.8 223.4C256.6 223.6 261.0 223.4 264.3 223.8C267.7 224.2 270.5 224.7 273.0 225.7C275.6 226.7 277.7 228.0 279.8 230.0C281.9 231.9 283.8 234.6 285.6 237.3C287.4 240.0 288.7 244.0 290.4 246.0C292.2 248.0 294.3 249.3 296.2 249.3C298.2 249.3 300.3 248.0 302.0 246.0C303.8 244.0 305.1 240.2 306.9 237.3C308.6 234.4 310.4 230.6 312.7 228.6C314.9 226.6 317.5 225.9 320.4 225.1C323.3 224.3 325.9 224.0 330.0 223.8C334.2 223.5 340.7 223.8 345.5 223.8C350.3 223.8 356.0 223.3 359.0 223.8C362.1 224.3 362.4 225.8 363.9 226.7C365.3 227.6 366.6 229.2 367.7 229.2C368.9 229.2 369.7 227.7 370.6 226.7C371.6 225.6 371.6 223.6 373.5 222.8C375.5 222.0 375.9 222.0 382.2 221.8C388.5 221.7 402.5 221.8 411.2 221.8C419.9 221.8 428.0 221.7 434.4 221.8C440.8 222.0 445.7 222.1 449.9 222.8C454.0 223.5 456.3 226.1 459.5 226.1C462.7 226.1 465.6 223.7 469.2 222.8C472.7 221.9 475.3 221.4 480.8 220.9C486.2 220.3 495.9 219.5 502.0 219.5C508.1 219.5 511.7 220.3 517.5 220.9C523.3 221.4 533.1 222.3 536.8 222.8C540.6 223.3 536.9 223.3 540.0 223.8C543.1 224.3 550.6 225.0 555.5 225.7C560.3 226.4 565.4 227.2 569.0 228.0C572.5 228.8 574.8 230.0 576.7 230.5C578.6 231.0 579.1 231.4 580.6 231.1C582.0 230.8 583.5 229.1 585.4 228.6C587.3 228.1 588.8 227.9 592.2 228.0C595.6 228.1 600.9 228.9 605.7 229.2C610.5 229.5 616.7 229.7 621.2 230.0C625.7 230.2 629.2 230.0 632.8 230.5C636.3 231.1 639.2 232.0 642.4 233.4C645.6 234.9 649.2 237.0 652.1 239.2C655.0 241.5 657.6 244.1 659.8 247.0C662.1 249.9 663.8 253.4 665.6 256.6C667.4 259.8 669.1 264.0 670.4 266.3C671.7 268.6 672.4 269.7 673.3 270.5C674.3 271.3 675.2 271.3 676.2 271.1C677.3 270.9 678.5 271.0 679.5 269.2C680.6 267.4 681.6 263.9 682.6 260.5C683.6 257.1 684.1 252.3 685.3 248.9C686.5 245.5 688.2 242.4 689.8 240.2C691.3 238.0 692.5 236.9 694.6 235.7C696.7 234.6 700.2 234.1 702.3 233.0C704.4 231.9 705.4 230.0 707.1 229.2C708.9 228.3 710.9 228.0 712.9 228.0C715.0 228.0 717.3 228.3 719.7 229.2C722.1 230.1 724.9 231.7 727.4 233.4C730.0 235.2 732.8 237.5 735.2 239.6C737.6 241.7 739.7 244.0 741.9 246.0C744.2 248.0 746.6 250.5 748.7 251.8C750.8 253.1 752.7 253.1 754.5 253.7C756.3 254.4 757.6 255.7 759.3 255.7C761.1 255.6 763.3 254.8 765.1 253.1C766.9 251.5 768.3 248.6 770.0 246.0C771.6 243.3 772.9 239.7 774.8 237.3C776.7 234.9 779.1 232.9 781.5 231.5C784.0 230.1 786.5 230.0 789.3 229.2C792.0 228.4 795.7 227.7 798.0 226.7C800.2 225.6 800.1 223.8 802.8 222.8C805.5 221.8 809.9 221.4 814.4 220.9C818.9 220.3 824.1 219.9 829.9 219.5C835.7 219.1 842.7 218.6 849.2 218.6C855.6 218.6 862.1 219.2 868.5 219.5C874.9 219.8 882.6 220.3 887.8 220.5C893.1 220.7 886.7 220.6 900.0 220.9C913.3 221.2 936.1 222.1 967.6 222.5C999.2 223.0 1051.0 223.2 1089.4 223.6C1127.7 224.0 1166.0 224.3 1197.6 224.7C1229.1 225.0 1253.9 225.2 1278.7 225.8C1303.5 226.3 1326.1 227.1 1346.4 227.9C1366.7 228.7 1384.9 229.7 1400.5 230.6C1416.1 231.5 1429.8 232.8 1440.0 233.3C1450.2 233.9 1452.6 233.3 1461.6 233.9C1470.7 234.5 1481.9 236.0 1494.1 237.1C1506.3 238.2 1521.2 239.5 1534.7 240.4C1548.2 241.3 1561.7 242.1 1575.3 242.5C1588.8 243.0 1602.3 243.1 1615.8 243.1C1629.4 243.0 1642.9 243.1 1656.4 242.3C1670.0 241.5 1683.5 239.8 1697.0 238.2C1710.5 236.6 1724.1 234.7 1737.6 232.8C1751.1 230.9 1767.8 228.7 1778.2 226.9C1788.5 225.0 1793.0 223.2 1799.8 222.0C1806.6 220.8 1812.4 220.4 1818.7 219.8C1825.1 219.3 1831.8 218.8 1837.7 218.7C1843.5 218.6 1849.0 218.7 1853.9 219.3C1858.9 219.8 1859.8 221.5 1867.4 222.0C1875.1 222.4 1887.7 221.8 1899.9 222.0C1912.1 222.2 1925.6 223.0 1940.5 223.3C1955.4 223.6 1979.7 223.8 1989.2 223.9C1998.6 224.0 1995.8 223.9 1997.2 224.0" fill="none" stroke="#37AD6B" stroke-width="11" stroke-linejoin="round" stroke-linecap="butt"/>
</g>
<g font-size="67" text-anchor="middle"><text transform="translate(219.0 1501.6) scale(0.937 1)">500</text><text transform="translate(472.0 1501.6) scale(0.937 1)">1000</text><text transform="translate(725.0 1501.6) scale(0.937 1)">1500</text><text transform="translate(978.0 1501.6) scale(0.937 1)">2000</text><text transform="translate(1230.0 1501.6) scale(0.937 1)">2500</text><text transform="translate(1483.0 1501.6) scale(0.937 1)">3000</text><text transform="translate(1736.0 1501.6) scale(0.937 1)">3500</text><text transform="translate(1989.0 1501.6) scale(0.937 1)">4000</text></g>
<rect x="2044.5" y="1440" width="26" height="80" fill="#fff"/>
<g font-size="72" text-anchor="end"><text transform="translate(1974.1 174.2) scale(0.971 1)">MOF-801/CB</text><text transform="translate(1976.9 484.4) scale(0.977 1)">MOF-801/G</text><text transform="translate(1972.0 805.4) scale(0.967 1)">MOF-801/CNT</text><text transform="translate(1967.0 1101.0) scale(0.962 1)">MOF-801</text></g>
<text font-size="79" text-anchor="middle" transform="translate(82.2 720.6) rotate(-90) scale(0.998 1)">Transimttance/%</text>
<text font-size="79" transform="translate(795.0 1631.6) scale(0.950 1)">Wavenumber/cm</text>
<text font-size="53" transform="translate(1309.0 1600) scale(1.000 1)">−1</text>
</svg>
</body></html>
